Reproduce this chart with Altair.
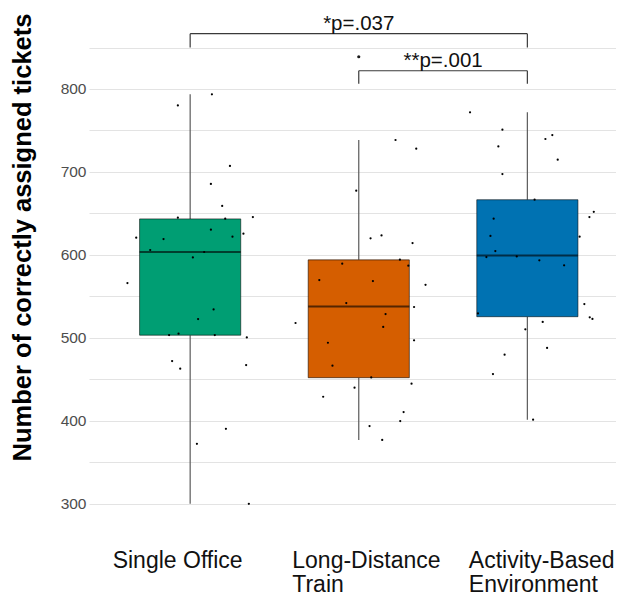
import json
import altair as alt
import pandas as pd

# ---------------- data ----------------
categories = ["Single Office", "Long-Distance Train", "Activity-Based Environment"]
label_lines = [["Single Office"], ["Long-Distance", "Train"], ["Activity-Based", "Environment"]]
colors = ["#009E73", "#D55E00", "#0072B2"]

q1 = [503.2, 452.0, 525.5]
median = [603.6, 537.8, 599.4]
q3 = [643.4, 594.0, 666.5]
whisker_low = [300.0, 377.0, 401.3]
whisker_high = [793.5, 738.5, 771.8]

so_values = [793.5, 780.2, 707.2, 685.5, 659.0, 644.8, 643.6, 645.6, 620.7, 619.1,
             630.4, 621.9, 625.5, 605.9, 603.5, 597.0, 566.1, 534.3, 522.7, 503.4,
             505.0, 503.4, 500.5, 472.0, 462.8, 467.2, 390.4, 372.3, 300.0]
so_jitter = [0.129, -0.073, 0.236, 0.123, 0.190, -0.073, 0.208, 0.372, -0.320, -0.158,
             0.123, 0.251, 0.316, -0.237, 0.083, 0.016, -0.372, 0.139, 0.047, -0.125,
             -0.069, 0.146, 0.336, -0.107, -0.059, 0.332, 0.212, 0.040, 0.348]

ldt_values = [738.5, 728.0, 677.4, 620.0, 623.5, 614.3, 594.2, 587.0, 589.4, 569.7,
              568.5, 564.0, 542.0, 537.2, 528.7, 517.9, 513.1, 497.0, 494.1, 466.4,
              452.3, 444.7, 439.9, 429.0, 410.6, 399.7, 393.7, 377.0]
ldt_jitter = [0.218, 0.341, -0.015, 0.070, 0.135, 0.319, 0.244, 0.294, -0.098, -0.234,
              0.084, 0.396, -0.074, 0.328, 0.159, -0.375, 0.145, 0.328, -0.183, -0.156,
              0.074, 0.313, -0.025, -0.211, 0.266, 0.246, 0.064, 0.139]

abe_values = [771.8, 750.9, 744.5, 739.7, 730.8, 714.8, 697.5, 666.5, 652.0, 645.6,
              643.6, 622.8, 621.9, 604.6, 597.4, 598.2, 593.4, 587.4, 540.8, 529.5,
              524.8, 522.8, 519.2, 510.3, 487.8, 479.7, 456.4, 401.3]
abe_jitter = [-0.340, -0.148, 0.148, 0.107, -0.172, 0.180, -0.148, 0.043, 0.394, 0.368,
              -0.200, -0.219, 0.310, -0.190, -0.243, -0.063, 0.071, 0.218, 0.338, -0.293,
              0.370, 0.386, 0.091, -0.012, 0.117, -0.135, -0.204, 0.034]

outlier_group = [2]
outlier_value = [838.9]

bracket_from = [1, 2]
bracket_to = [3, 3]
bracket_y = [866.7, 822.0]
bracket_tip = [850.0, 806.4]
bracket_label = ["*p=.037", "**p=.001"]

y_title = "Number of correctly assigned tickets"

# ---------------- tables ----------------
boxes = pd.DataFrame({
    "idx": [1, 2, 3], "group": categories, "q1": q1, "median": median, "q3": q3,
    "lo": whisker_low, "hi": whisker_high,
})
pts = pd.DataFrame({
    "idx": [1] * len(so_values) + [2] * len(ldt_values) + [3] * len(abe_values),
    "jit": so_jitter + ldt_jitter + abe_jitter,
    "value": so_values + ldt_values + abe_values,
})
outl = pd.DataFrame({"idx": outlier_group, "value": outlier_value})
brk = pd.DataFrame({"a": bracket_from, "b": bracket_to, "y": bracket_y,
                    "tip": bracket_tip, "label": bracket_label})

FONT = "Liberation Sans"
PLOT_W = 527
xdom = [0.4, 0.4 + PLOT_W / 168.6]
ydom = [272, 894]

xs = alt.Scale(domain=xdom, nice=False, zero=False)
ys = alt.Scale(domain=ydom, nice=False, zero=False)
color_scale = alt.Scale(domain=categories, range=colors)

label_expr = "split(%s[datum.value - 1], '|')" % json.dumps(["|".join(l) for l in label_lines]).replace('"', "'")

x_axis = alt.Axis(values=[1, 2, 3], labelExpr=label_expr, title=None, grid=False, ticks=False,
                  tickSize=0, domain=False, labelAlign="left", labelBaseline="alphabetic",
                  labelPadding=40, labelFontSize=23, labelFont=FONT, labelColor="#111111",
                  labelLineHeight=24, labelOverlap=False, labelFlush=False, labelBound=False,
                  labelOffset={"condition": [{"test": "datum.value == 1", "value": -78},
                                             {"test": "datum.value == 2", "value": -67}],
                               "value": -59})
y_axis = alt.Axis(values=list(range(300, 851, 50)),
                  labelExpr="datum.value % 100 == 0 ? datum.label : ''",
                  format="d", title=y_title, grid=True, gridColor="#e3e3e3", gridWidth=1,
                  ticks=False, tickSize=0, domain=False, labelPadding=3, labelFontSize=15.5,
                  labelFont=FONT, labelColor="#4d4d4d", labelOverlap=False,
                  titleFont=FONT, titleFontSize=25.5, titleFontWeight="bold", titleColor="#000000",
                  titleAngle=270, titleAlign="center", titleBaseline="alphabetic",
                  titleX=-59, titleY=226)

base_box = alt.Chart(boxes)

grid_layer = alt.Chart(boxes).mark_rule(opacity=0).encode(
    x=alt.X("idx:Q", scale=xs, axis=x_axis),
    y=alt.Y("q1:Q", scale=ys, axis=y_axis),
)

whisk_lo = base_box.mark_rule(color="#5a5a5a", strokeWidth=1.2).encode(
    x=alt.X("idx:Q", scale=xs), y=alt.Y("lo:Q", scale=ys), y2="q1:Q")
whisk_hi = base_box.mark_rule(color="#5a5a5a", strokeWidth=1.2).encode(
    x=alt.X("idx:Q", scale=xs), y=alt.Y("q3:Q", scale=ys), y2="hi:Q")

box = base_box.transform_calculate(
    left="datum.idx - 0.3", right="datum.idx + 0.3"
).mark_rect(stroke="#000000", strokeOpacity=0.55, strokeWidth=1).encode(
    x=alt.X("left:Q", scale=xs), x2="right:Q",
    y=alt.Y("q1:Q", scale=ys), y2="q3:Q",
    fill=alt.Fill("group:N", scale=color_scale, legend=None),
)

med = base_box.transform_calculate(
    left="datum.idx - 0.3", right="datum.idx + 0.3"
).mark_rule(color="#000000", opacity=0.6, strokeWidth=2).encode(
    x=alt.X("left:Q", scale=xs), x2="right:Q", y=alt.Y("median:Q", scale=ys))

points = alt.Chart(pts).transform_calculate(px="datum.idx + datum.jit").mark_circle(
    size=5, color="#000000", opacity=1).encode(
    x=alt.X("px:Q", scale=xs), y=alt.Y("value:Q", scale=ys))

outlier = alt.Chart(outl).mark_circle(size=10, color="#1a1a1a", opacity=1).encode(
    x=alt.X("idx:Q", scale=xs), y=alt.Y("value:Q", scale=ys))

bcol = "#3a3a3a"
bh = alt.Chart(brk).mark_rule(color=bcol, strokeWidth=1.2).encode(
    x=alt.X("a:Q", scale=xs), x2="b:Q", y=alt.Y("y:Q", scale=ys))
bl = alt.Chart(brk).mark_rule(color=bcol, strokeWidth=1.2).encode(
    x=alt.X("a:Q", scale=xs), y=alt.Y("y:Q", scale=ys), y2="tip:Q")
br = alt.Chart(brk).mark_rule(color=bcol, strokeWidth=1.2).encode(
    x=alt.X("b:Q", scale=xs), y=alt.Y("y:Q", scale=ys), y2="tip:Q")
btxt = alt.Chart(brk).transform_calculate(mid="(datum.a + datum.b) / 2").mark_text(
    font=FONT, fontSize=20.5, color="#111111", baseline="alphabetic", align="center", dy=-4
).encode(x=alt.X("mid:Q", scale=xs), y=alt.Y("y:Q", scale=ys), text="label:N")

chart = alt.layer(
    grid_layer, whisk_lo, whisk_hi, box, med, points, outlier, bh, bl, br, btxt
).properties(
    width=PLOT_W, height=516,
    background="white",
    autosize=alt.AutoSizeParams(type="none"),
    padding={"left": 81, "top": 3, "right": 0, "bottom": 70},
).configure_view(stroke=None)

chart.save("out.html", embed_options={"renderer": "svg", "actions": False})
